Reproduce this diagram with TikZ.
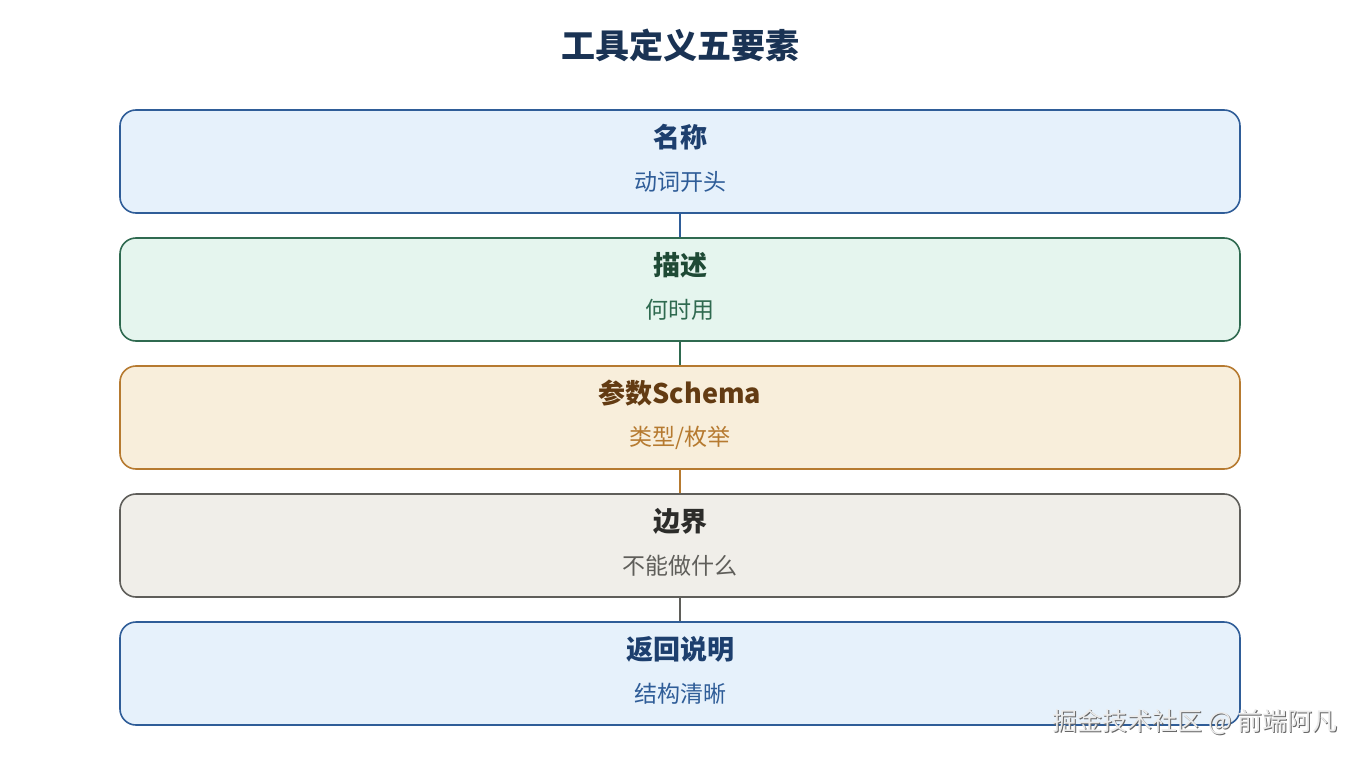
\documentclass[tikz,border=0pt]{standalone}
\usepackage{fontspec}
\setmainfont{Noto Sans CJK SC}
\usetikzlibrary{positioning}
\definecolor{bluefill}{HTML}{E6F1FB}
\definecolor{bluedraw}{HTML}{2F5D98}
\definecolor{bluetitle}{HTML}{1D3F6E}
\definecolor{bluesub}{HTML}{2F5D98}
\definecolor{greenfill}{HTML}{E5F5EE}
\definecolor{greendraw}{HTML}{2F6A50}
\definecolor{greentitle}{HTML}{1E4A35}
\definecolor{greensub}{HTML}{2F6A50}
\definecolor{orangefill}{HTML}{F8EEDB}
\definecolor{orangedraw}{HTML}{B67A30}
\definecolor{orangetitle}{HTML}{633B12}
\definecolor{orangesub}{HTML}{B67A30}
\definecolor{grayfill}{HTML}{F0EEE9}
\definecolor{graydraw}{HTML}{5F5E5A}
\definecolor{graytitle}{HTML}{2C2C2A}
\definecolor{graysub}{HTML}{5F5E5A}
\definecolor{maintitle}{HTML}{1A3354}
\tikzset{
  card/.style={draw=#1draw, fill=#1fill, line width=1.6pt, rounded corners=16pt,
    minimum width=1120pt, minimum height=103pt, inner sep=0pt},
  cardtitle/.style={text=#1title, font=\fontsize{27}{31}\selectfont\bfseries},
  cardsub/.style={text=#1sub, font=\fontsize{23}{27}\selectfont},
  link/.style={draw=#1draw, line width=1.6pt},
}
\begin{document}
\begin{tikzpicture}[x=1pt,y=-1pt]
\useasboundingbox (0,0) rectangle (1360,760);
\node[text=maintitle, font=\fontsize{34}{38}\selectfont\bfseries] (title) at (680,45) {工具定义五要素};

\node[card=blue] (b1) at (680,161.5) {};
\node[card=green] (b2) at (680,289.5) {};
\node[card=orange] (b3) at (680,417.5) {};
\node[card=gray] (b4) at (680,545.5) {};
\node[card=blue] (b5) at (680,673.5) {};

\draw[link=blue] (b1.south) -- (b2.north);
\draw[link=green] (b2.south) -- (b3.north);
\draw[link=orange] (b3.south) -- (b4.north);
\draw[link=gray] (b4.south) -- (b5.north);

\node[cardtitle=blue] (t1) at (680,137) {名称};
\node[cardsub=blue] (s1) at (680,182) {动词开头};
\node[cardtitle=green] (t2) at (680,265) {描述};
\node[cardsub=green] (s2) at (680,310) {何时用};
\node[cardtitle=orange] (t3) at (680,393) {参数Schema};
\node[cardsub=orange] (s3) at (680,438) {类型/枚举};
\node[cardtitle=gray] (t4) at (680,521) {边界};
\node[cardsub=gray] (s4) at (680,566) {不能做什么};
\node[cardtitle=blue] (t5) at (680,649) {返回说明};
\node[cardsub=blue] (s5) at (680,694) {结构清晰};

\node[text=black!60, font=\fontsize{25}{29}\selectfont] (wmshadow) at (1196.2,723.2) {掘金技术社区 @ 前端阿凡};
\node[text=white!92!black, font=\fontsize{25}{29}\selectfont] (wm) at (1195,722) {掘金技术社区 @ 前端阿凡};
\end{tikzpicture}
\end{document}
